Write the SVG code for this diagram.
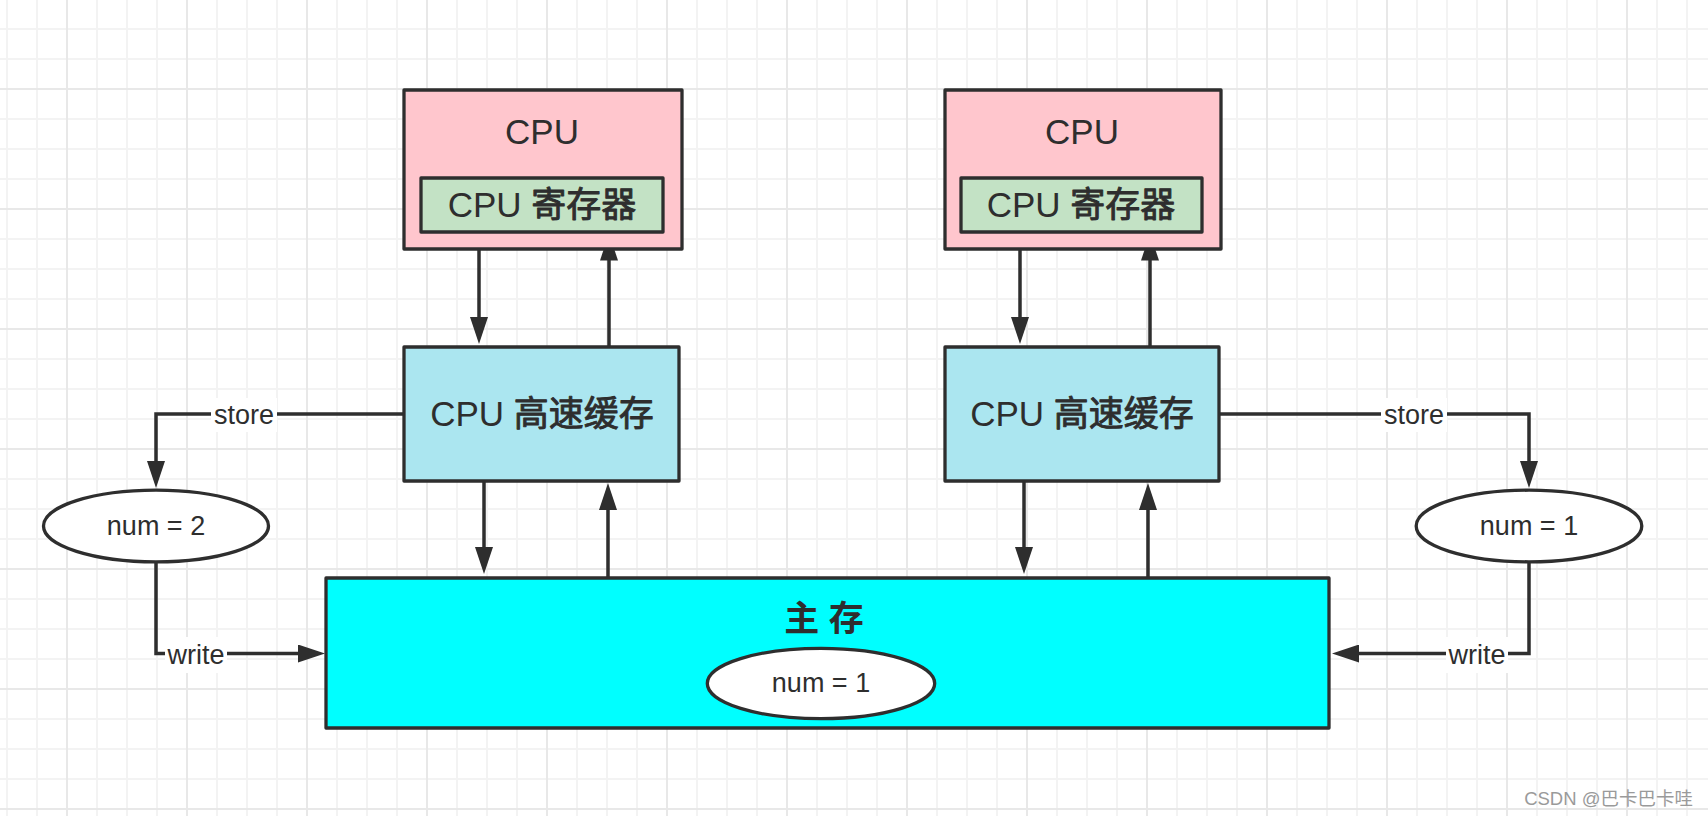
<svg xmlns="http://www.w3.org/2000/svg" width="1708" height="816" viewBox="0 0 1708 816">
  <style>
    .box { stroke: #2e2e2e; stroke-width: 3.3; stroke-linejoin: round; }
    .t { font-family: "Liberation Sans", "Noto Sans CJK SC", sans-serif; fill: #2e2e2e; text-anchor: middle; }
    .big { font-size: 35px; }
    .small { font-size: 27px; }
    .cjk { stroke: #2e2e2e; stroke-width: 0.9; stroke-linejoin: round; }
    .conn { fill: none; stroke: #2e2e2e; stroke-width: 3.5; }
    .lbg { fill: #ffffff; }
  </style>
  <defs>
    <pattern id="grid" patternUnits="userSpaceOnUse" x="66" y="88" width="120" height="120">
      <rect x="0" y="0" width="120" height="120" fill="#ffffff"/>
      <g fill="#f3f3f3">
        <rect x="30" y="0" width="2" height="120"/>
        <rect x="60" y="0" width="2" height="120"/>
        <rect x="90" y="0" width="2" height="120"/>
        <rect x="0" y="30" width="120" height="2"/>
        <rect x="0" y="60" width="120" height="2"/>
        <rect x="0" y="90" width="120" height="2"/>
      </g>
      <g fill="#e8e8e8">
        <rect x="0" y="0" width="2" height="120"/>
        <rect x="0" y="0" width="120" height="2"/>
      </g>
    </pattern>
    <marker id="arrow" markerUnits="userSpaceOnUse" viewBox="0 0 27 18" refX="2" refY="9" markerWidth="27" markerHeight="18" orient="auto">
      <path d="M0,0 L27,9 L0,18 Z" fill="#2e2e2e"/>
    </marker>
  </defs>

  <rect x="0" y="0" width="1708" height="816" fill="url(#grid)"/>

  <g id="connectors">
    <path class="conn" d="M479,233 V319" marker-end="url(#arrow)"/>
    <path class="conn" d="M609,347 V258.5" marker-end="url(#arrow)"/>
    <path class="conn" d="M484,481 V549" marker-end="url(#arrow)"/>
    <path class="conn" d="M608,578 V508" marker-end="url(#arrow)"/>
    <path class="conn" d="M1020,233 V319" marker-end="url(#arrow)"/>
    <path class="conn" d="M1150,347 V258.5" marker-end="url(#arrow)"/>
    <path class="conn" d="M1024,481 V549" marker-end="url(#arrow)"/>
    <path class="conn" d="M1148,578 V508" marker-end="url(#arrow)"/>
    <path class="conn" d="M404,414 H156 V463" marker-end="url(#arrow)"/>
    <path class="conn" d="M156,562 V653.5 H300" marker-end="url(#arrow)"/>
    <path class="conn" d="M1219,414 H1529 V463" marker-end="url(#arrow)"/>
    <path class="conn" d="M1529,562 V653.5 H1357" marker-end="url(#arrow)"/>
    <g id="labels">
      <rect class="lbg" x="211" y="398" width="66" height="34"/>
      <text class="t small" x="244" y="424">store</text>
      <rect class="lbg" x="165" y="637" width="62" height="36"/>
      <text class="t small" x="196" y="664">write</text>
      <rect class="lbg" x="1381" y="398" width="66" height="34"/>
      <text class="t small" x="1414" y="424">store</text>
      <rect class="lbg" x="1446" y="637" width="62" height="36"/>
      <text class="t small" x="1477" y="664">write</text>
    </g>
  </g>

  <g id="cpu-left">
    <rect class="box" x="404" y="90" width="278" height="159" fill="#ffc6cd"/>
    <text class="t big" x="542" y="144">CPU</text>
  </g>
  <g id="reg-left">
    <rect class="box" x="421" y="178" width="242" height="54" fill="#c3e2c5"/>
    <text class="t big" x="542" y="217">CPU <tspan class="cjk">寄存器</tspan></text>
  </g>
  <g id="cpu-right">
    <rect class="box" x="945" y="90" width="276" height="159" fill="#ffc6cd"/>
    <text class="t big" x="1082" y="144">CPU</text>
  </g>
  <g id="reg-right">
    <rect class="box" x="961" y="178" width="241" height="54" fill="#c3e2c5"/>
    <text class="t big" x="1081" y="217">CPU <tspan class="cjk">寄存器</tspan></text>
  </g>
  <g id="cache-left">
    <rect class="box" x="404" y="347" width="275" height="134" fill="#abe6f0"/>
    <text class="t big" x="542" y="425.5">CPU <tspan class="cjk">高速缓存</tspan></text>
  </g>
  <g id="cache-right">
    <rect class="box" x="945" y="347" width="274" height="134" fill="#abe6f0"/>
    <text class="t big" x="1082" y="425.5">CPU <tspan class="cjk">高速缓存</tspan></text>
  </g>
  <g id="num-left">
    <ellipse class="box" cx="156" cy="526" rx="112.5" ry="35.8" fill="#ffffff"/>
    <text class="t small" x="156" y="534.5">num = 2</text>
  </g>
  <g id="num-right">
    <ellipse class="box" cx="1529" cy="526" rx="112.8" ry="35.8" fill="#ffffff"/>
    <text class="t small" x="1529" y="534.5">num = 1</text>
  </g>
  <g id="main-memory">
    <rect class="box" x="326" y="578" width="1003" height="150" fill="#00ffff"/>
    <text class="t big" x="824" y="631" font-weight="bold">主 存</text>
  </g>
  <g id="num-main">
    <ellipse class="box" cx="821" cy="683.5" rx="113.7" ry="35.2" fill="#ffffff"/>
    <text class="t small" x="821" y="692">num = 1</text>
  </g>

  <text x="1693" y="805" font-family="'Liberation Sans', 'Noto Sans CJK SC', sans-serif" font-size="18.5" fill="#9a9a9a" text-anchor="end">CSDN @巴卡巴卡哇</text>
</svg>
